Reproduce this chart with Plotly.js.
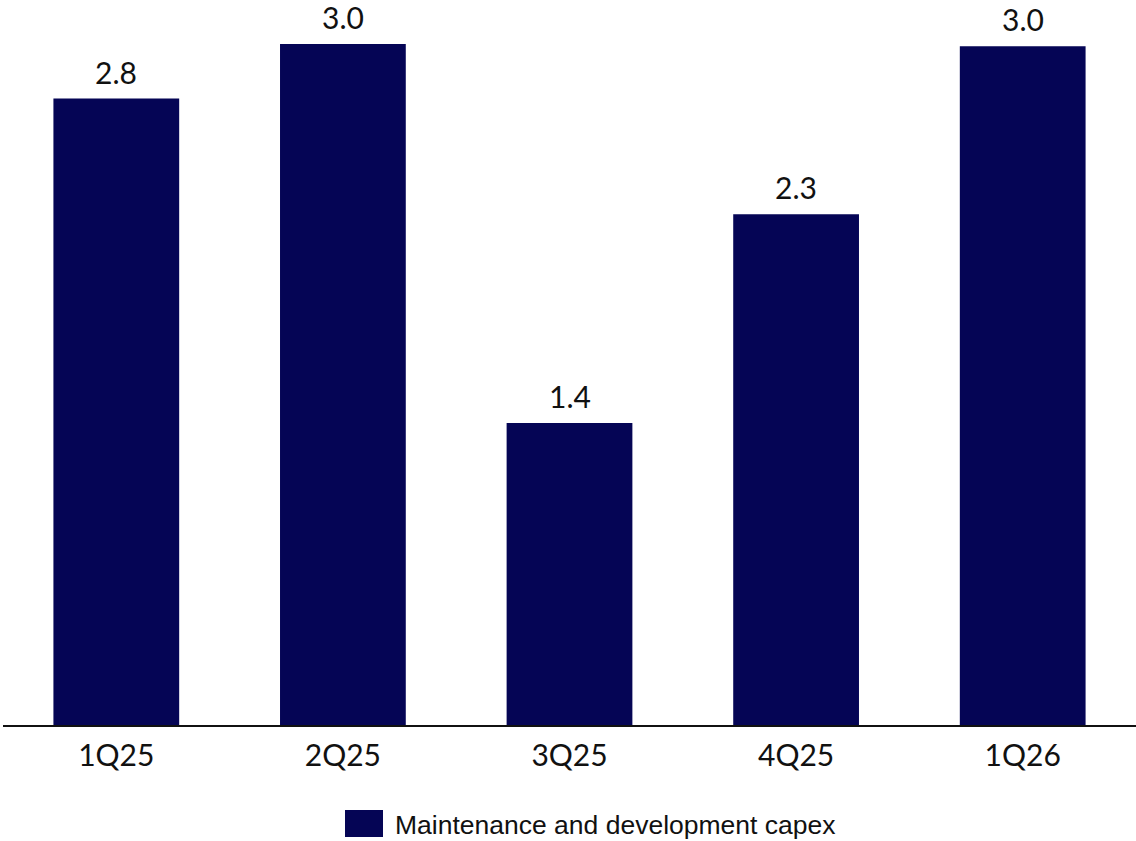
<!DOCTYPE html>
<html>
<head>
<meta charset="utf-8">
<script src="https://cdn.plot.ly/plotly-3.0.1.min.js"></script>
<style>html,body{margin:0;padding:0;background:#fff;}#chart{width:1136px;height:841px;}</style>
</head>
<body>
<div id="chart"></div>
<script>
const categories = ["1Q25", "2Q25", "3Q25", "4Q25", "1Q26"];
const capexValues = [2.76, 3.00, 1.33, 2.25, 2.99];
const valueLabels = ["2.8", "3.0", "1.4", "2.3", "3.0"];
const seriesName = "Maintenance and development capex";
const barColor = "#050555";
const labelFont = {family: "Lato, sans-serif", size: 30, color: "#111111", weight: 400};

const trace = {
  type: "bar",
  x: categories,
  y: capexValues,
  marker: {color: barColor, line: {width: 0}},
  width: 0.555,
  name: seriesName,
  showlegend: false,
  hoverinfo: "skip"
};

const valueAnnotations = categories.map((c, i) => ({
  x: c, y: capexValues[i], xref: "x", yref: "y",
  text: valueLabels[i], showarrow: false,
  xanchor: "center", yanchor: "bottom", yshift: 7,
  font: labelFont
}));

const layout = {
  width: 1136,
  height: 841,
  margin: {l: 3, r: 0, t: 0, b: 116, pad: 0},
  paper_bgcolor: "#ffffff",
  plot_bgcolor: "#ffffff",
  showlegend: false,
  xaxis: {
    showline: true, linecolor: "#111111", linewidth: 2,
    ticks: "", showgrid: false, zeroline: false,
    tickfont: labelFont,
    ticklabelstandoff: 3
  },
  yaxis: {visible: false, range: [0, 3.194], showgrid: false, zeroline: false},
  shapes: [{
    type: "rect", xref: "paper", yref: "paper",
    x0: (345 - 3) / 1133, x1: (383 - 3) / 1133,
    y0: -(837 - 725) / 725, y1: -(810 - 725) / 725,
    fillcolor: barColor, line: {width: 0}
  }],
  annotations: valueAnnotations.concat([{
    xref: "paper", yref: "paper",
    x: (393 - 3) / 1133, y: -(825 - 725) / 725,
    xanchor: "left", yanchor: "middle", showarrow: false,
    text: seriesName,
    font: {family: "Liberation Sans, Arial, sans-serif", size: 26.5, color: "#111111"}
  }])
};

Plotly.newPlot("chart", [trace], layout, {displayModeBar: false, staticPlot: true});
</script>
</body>
</html>
